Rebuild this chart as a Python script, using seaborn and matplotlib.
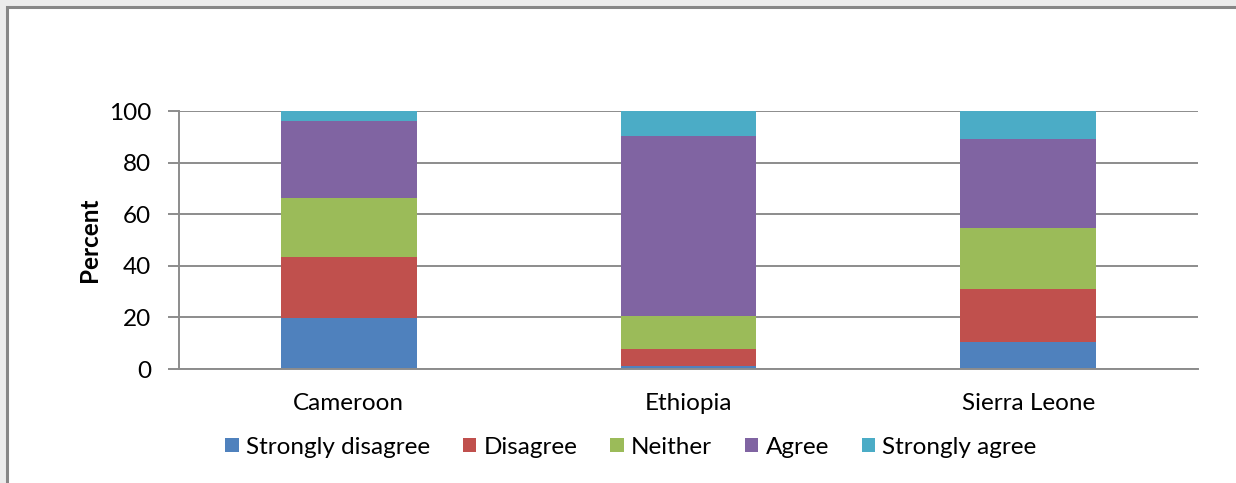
import numpy as np
import pandas as pd
import matplotlib
matplotlib.use("Agg")
import matplotlib.pyplot as plt
from matplotlib.patches import Rectangle
from matplotlib.lines import Line2D
import seaborn as sns

countries = ["Cameroon", "Ethiopia", "Sierra Leone"]
responses = ["Strongly disagree", "Disagree", "Neither", "Agree", "Strongly agree"]
strongly_disagree = [19.6, 1.3, 10.4]
disagree = [23.7, 6.5, 20.7]
neither = [22.9, 12.7, 23.7]
agree = [29.9, 69.7, 34.3]
strongly_agree = [3.9, 9.8, 10.9]
y_ticks = [0, 20, 40, 60, 80, 100]

colors = ["#4F81BD", "#C0504D", "#9BBB59", "#8064A2", "#4BACC6"]

series = [strongly_disagree, disagree, neither, agree, strongly_agree]
df = pd.DataFrame({"country": countries})
for name, vals in zip(responses, series):
    df[name] = vals
# cumulative tops for stacking
cum = df[responses].cumsum(axis=1)
cum["country"] = df["country"]

sns.set_theme(style="white")
plt.rcParams["font.family"] = ["Lato", "DejaVu Sans"]
plt.rcParams["text.color"] = "black"
plt.rcParams["xtick.color"] = "black"
plt.rcParams["ytick.color"] = "black"
plt.rcParams["axes.labelcolor"] = "black"

FS = 17.5
W, H = 1236, 483

fig = plt.figure(figsize=(W / 100, H / 100), dpi=100, facecolor="white")
# grey margin strips above and left of the chart area, with a frame line
strip_kw = dict(transform=fig.transFigure, facecolor="#EBEBEB", edgecolor="none", zorder=-10)
fig.patches.append(Rectangle((0, 1 - 6 / H), 1, 6 / H, **strip_kw))
fig.patches.append(Rectangle((0, 0), 6 / W, 1, **strip_kw))
fig.lines.append(Line2D([6.5 / W, 6.5 / W, 1.05], [-0.05, 1 - 6.5 / H, 1 - 6.5 / H],
                        transform=fig.transFigure, color="#868686", linewidth=2.2,
                        solid_joinstyle="miter", zorder=-5))

ax = fig.add_axes([179 / W, 1 - 369 / H, (1198 - 179) / W, (369 - 111) / H])
ax.set_facecolor("none")

# draw from the top of the stack downwards so each layer overlays the one above
for name, col in reversed(list(zip(responses, colors))):
    sns.barplot(x="country", y=name, data=cum, color=col, width=0.4, ax=ax,
                saturation=1, edgecolor="none", linewidth=0, zorder=3)

ax.set_xlim(-0.5, 2.5)
ax.set_ylim(0, 100)
ax.set_yticks(y_ticks)
ax.set_yticklabels([str(t) for t in y_ticks], fontsize=FS)
ax.grid(axis="y", color="#8C8C8C", linewidth=1.4, zorder=0)
ax.set_axisbelow(True)
for s in ["top", "right"]:
    ax.spines[s].set_visible(False)
for s in ["left", "bottom"]:
    ax.spines[s].set_color("#8C8C8C")
    ax.spines[s].set_linewidth(1.4)
    ax.spines[s].set_zorder(4)

ax.set_xticks([0, 1, 2])
ax.set_xticklabels(countries, fontsize=FS)
ax.set_xticks([-0.5, 0.5, 1.5, 2.5], minor=True)
ax.tick_params(axis="x", which="major", length=0, pad=17)
ax.tick_params(axis="x", which="minor", length=8, width=1.4, color="#8C8C8C", direction="out")
ax.tick_params(axis="y", length=8, width=1.4, color="#8C8C8C", direction="out", pad=12,
               left=True)
ax.set_xlabel("")
ax.set_ylabel("Percent", fontsize=FS, fontweight="bold")
ax.yaxis.set_label_coords((101 - 179) / (1198 - 179), 0.5)

handles = [Rectangle((0, 0), 1, 1, facecolor=c, edgecolor="none") for c in colors]
fig.legend(handles, responses, loc="center", bbox_to_anchor=(631 / W, 1 - 447 / H),
           ncol=5, frameon=False, fontsize=FS, handlelength=0.55, handleheight=0.55,
           handletextpad=0.3, columnspacing=1.35)

fig.savefig("out.png", dpi=100, facecolor=fig.get_facecolor())
